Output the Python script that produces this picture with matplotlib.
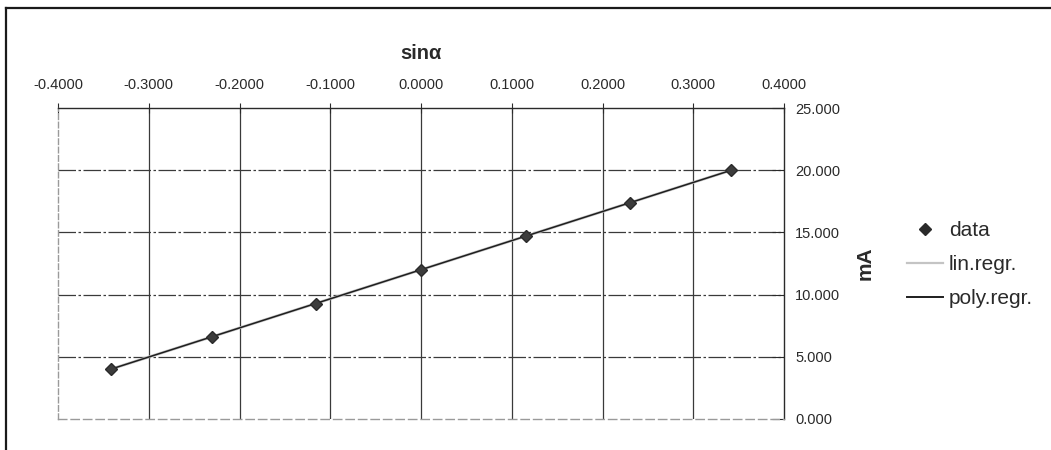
import matplotlib
matplotlib.use("Agg")
import matplotlib.pyplot as plt
from matplotlib.lines import Line2D
from matplotlib.ticker import FormatStrFormatter

plt.rcParams['font.family'] = ['Liberation Sans', 'DejaVu Sans']

# Measured loop current against sine of the tilt angle
sin_alpha = [-0.3420, -0.2306, -0.1161, 0.0000, 0.1161, 0.2306, 0.3420]
current_ma = [4.000, 6.606, 9.284, 12.000, 14.716, 17.394, 20.000]
# Fitted values at the same abscissae
lin_fit = [4.000, 6.606, 9.284, 12.000, 14.716, 17.394, 20.000]
poly_fit = [4.000, 6.606, 9.284, 12.000, 14.716, 17.394, 20.000]

x_ticks = [-0.4, -0.3, -0.2, -0.1, 0.0, 0.1, 0.2, 0.3, 0.4]
y_ticks = [0, 5, 10, 15, 20, 25]

TXT = '#2a2a2a'

fig = plt.figure(figsize=(10.51, 4.5), dpi=100)
ax = fig.add_axes([58 / 1051, 1 - 419 / 450, 726 / 1051, 311 / 450])

ax.set_xlim(-0.4, 0.4)
ax.set_ylim(0, 25)

# grid
for xv in x_ticks[1:-1]:
    ax.axvline(xv, color='#3a3a3a', lw=0.9, zorder=1)
for yv in y_ticks[1:-1]:
    ax.axhline(yv, color='#3a3a3a', lw=0.9, ls=(0, (14, 2, 2, 2)), zorder=1)

ax.plot(sin_alpha, lin_fit, color='#c4c4c4', lw=2.0, zorder=3, label='lin.regr.')
ax.plot(sin_alpha, poly_fit, color='#1e1e1e', lw=1.1, zorder=4, label='poly.regr.')
ax.plot(sin_alpha, current_ma, ls='none', marker='D', ms=6.5, color='#3c3c3c',
        mec='#2a2a2a', zorder=5, label='data')

# spines
ax.spines['left'].set_color('#9a9a9a')
ax.spines['left'].set_linestyle((0, (4, 2)))
ax.spines['bottom'].set_color('#9a9a9a')
ax.spines['bottom'].set_linestyle((0, (6, 3)))
ax.spines['top'].set_color(TXT)
ax.spines['right'].set_color(TXT)
for s in ax.spines.values():
    s.set_linewidth(1.0)

ax.xaxis.tick_top()
ax.xaxis.set_label_position('top')
ax.yaxis.tick_right()
ax.yaxis.set_label_position('right')
ax.set_xticks(x_ticks)
ax.set_yticks(y_ticks)
ax.xaxis.set_major_formatter(FormatStrFormatter('%.4f'))
ax.yaxis.set_major_formatter(FormatStrFormatter('%.3f'))
ax.tick_params(axis='x', direction='inout', length=7, width=0.8, pad=8,
               labelsize=10.5, colors=TXT)
ax.tick_params(axis='y', direction='in', length=9, width=0.8, pad=8,
               labelsize=10.5, colors=TXT)

ax.set_xlabel('sinα', fontsize=14.5, fontweight='bold', color=TXT, labelpad=14)
ax.set_ylabel('mA', fontsize=15, fontweight='bold', color=TXT, labelpad=11)

handles = [
    Line2D([], [], ls='none', marker='D', ms=6, color=TXT),
    Line2D([], [], color='#c4c4c4', lw=1.6),
    Line2D([], [], color='#1e1e1e', lw=1.4),
]
fig.legend(handles, ['data', 'lin.regr.', 'poly.regr.'], loc='center left',
           bbox_to_anchor=(907 / 1051, 1 - 265 / 450), frameon=False, fontsize=15,
           handlelength=1.75, handletextpad=0.25, labelspacing=0.72,
           borderpad=0, borderaxespad=0, labelcolor=TXT)

# outer frame of the chart area
fig.add_artist(Line2D([6 / 1051, 6 / 1051], [0, 1 - 8 / 450], transform=fig.transFigure,
                      color='#1a1a1a', lw=1.6))
fig.add_artist(Line2D([6 / 1051, 1.0], [1 - 8 / 450, 1 - 8 / 450], transform=fig.transFigure,
                      color='#1a1a1a', lw=1.6))

fig.savefig('out.png', dpi=100, facecolor='white')
